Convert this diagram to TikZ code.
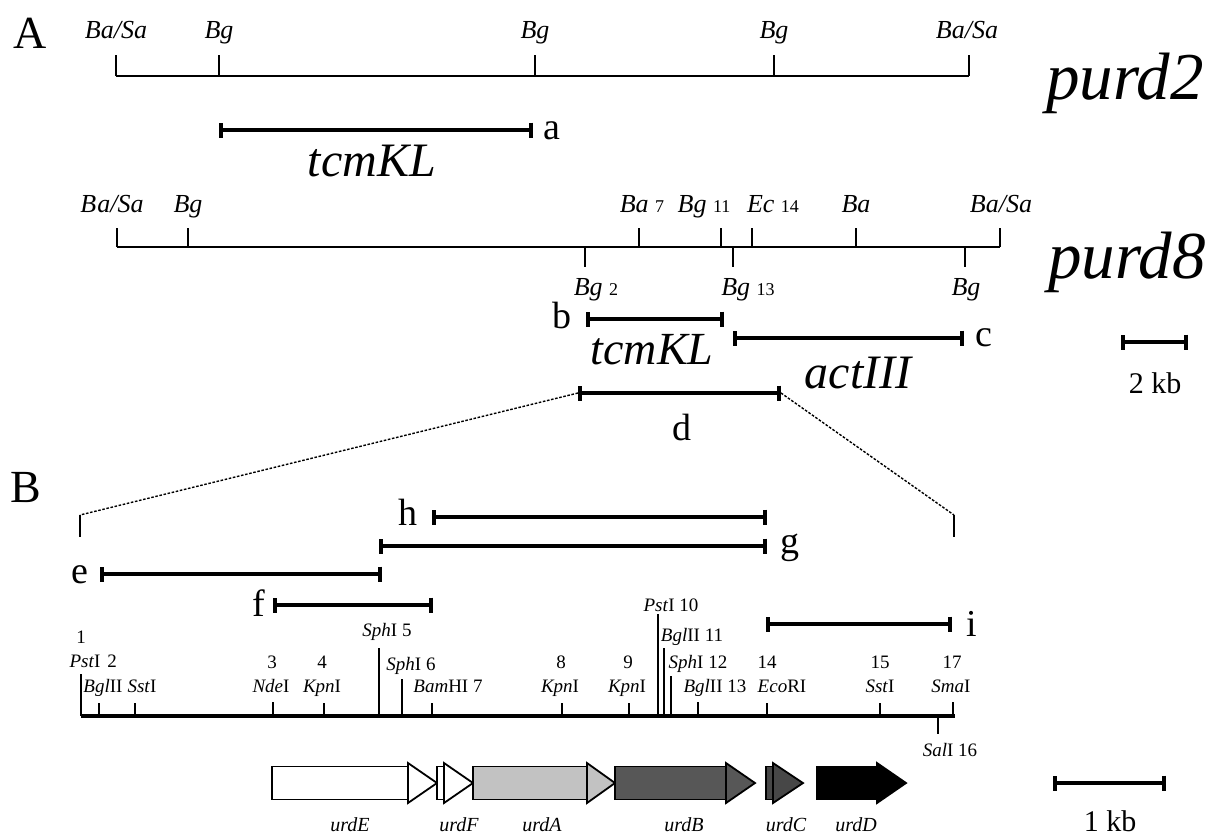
\documentclass[tikz,border=0pt]{standalone}
\usepackage{fontspec}
\setmainfont{Liberation Serif}
\usetikzlibrary{arrows.meta}
\newcommand\fs[1]{\fontsize{#1}{#1}\selectfont}
\newcommand\genearrow[5]{% x0, x1, tip, fill, name
  \filldraw[gene, fill=#4] (#1,766.5) rectangle (#2,799.5);
  \filldraw[gene, fill=#4] (#2,763) -- (#3,783) -- (#2,803) -- cycle;
  \coordinate (#5) at ({(#1+#3)/2},783);
}
\tikzset{
  mapline/.style={line width=1.6pt},
  maptick/.style={line width=1.6pt},
  bmap/.style={line width=3.4pt},
  btick/.style={line width=2pt},
  frag/.style={line width=4pt, {Bar[width=15pt]}-{Bar[width=15pt]}},
  dots/.style={line width=1.4pt, dash pattern=on 2.6pt off 1.6pt},
  gene/.style={line width=1.8pt, draw=black},
  panel/.style={font=\fs{46}, anchor=base, inner sep=0},
  clone/.style={font=\fs{67}\itshape, anchor=base, inner sep=0},
  gname/.style={font=\fs{48}\itshape, anchor=base, inner sep=0},
  flabel/.style={font=\fs{38}, anchor=base, inner sep=0},
  asite/.style={font=\fs{26}\itshape, anchor=base, inner sep=0},
  bsite/.style={font=\fs{19}, anchor=base, inner sep=0},
  ulabel/.style={font=\fs{20}\itshape, anchor=base, inner sep=0},
  kb/.style={font=\fs{30}, anchor=base, inner sep=0},
}
\newcommand\nm[1]{{\fs{18}\upshape #1}}
\begin{document}
\begin{tikzpicture}[x=1pt, y=-1pt]
\useasboundingbox (0,0) rectangle (1210,839);

% ---------------- panel A ----------------
\node[panel] (pA) at (30,48) {A};

% purd2 map
\draw[mapline] (116,76) -- (969,76);
\foreach \x in {116,219,535,774,969} \draw[maptick] (\x,76) -- (\x,55);
\node[asite] (p2s1) at (116,38) {Ba/Sa};
\node[asite] (p2s2) at (219,38) {Bg};
\node[asite] (p2s3) at (535,38) {Bg};
\node[asite] (p2s4) at (774,38) {Bg};
\node[asite] (p2s5) at (967,38) {Ba/Sa};
\node[clone] (purd2) at (1125,99) {purd2};

% fragment a
\coordinate (a1) at (219,130); \coordinate (a2) at (533,130);
\draw[frag] (a1) -- (a2);
\node[flabel, anchor=base west] (la) at (543,139) {a};
\node[gname] (tcm1) at (372,176) {tcmKL};

% purd8 map
\draw[mapline] (117,247) -- (1000,247);
\foreach \x in {117,188,639,721,752,856,1000} \draw[maptick] (\x,247) -- (\x,228);
\foreach \x in {585,733,965} \draw[maptick] (\x,247) -- (\x,267);
\node[asite] (p8s1) at (112,212) {B\kern1pt a/Sa};
\node[asite] (p8s2) at (188,212) {Bg};
\node[asite] (p8s3) at (642,212) {Ba \nm{7}};
\node[asite] (p8s4) at (704,212) {Bg \nm{11}};
\node[asite] (p8s5) at (773,212) {Ec \nm{14}};
\node[asite] (p8s6) at (856,212) {Ba};
\node[asite] (p8s7) at (1001,212) {Ba/Sa};
\node[asite] (p8s8) at (596,295) {Bg \nm{2}};
\node[asite] (p8s9) at (748,295) {Bg \nm{13}};
\node[asite] (p8s10) at (966,295) {Bg};
\node[clone] (purd8) at (1127,278) {purd8};

% fragments b, c, d
\coordinate (b1) at (586,319); \coordinate (b2) at (724,319);
\draw[frag] (b1) -- (b2);
\node[flabel] (lb) at (562,328) {b};
\node[font=\fs{46}\itshape, anchor=base, inner sep=0] (tcm2) at (652,364) {tcmKL};
\coordinate (c1) at (733,338); \coordinate (c2) at (964,338);
\draw[frag] (c1) -- (c2);
\node[flabel, anchor=base west] (lc) at (975,346) {c};
\node[gname] (act) at (858,388) {actIII};
\coordinate (d1) at (578,393); \coordinate (d2) at (781,393);
\draw[frag] (d1) -- (d2);
\node[flabel] (ld) at (682,440) {d};

% 2 kb scale
\coordinate (s1) at (1121,342); \coordinate (s2) at (1188,342);
\draw[frag] (s1) -- (s2);
\node[kb] (kb2) at (1155,393) {2 kb};

% enlargement of d
\coordinate (zl) at (80,515); \coordinate (zr) at (954,515);
\draw[dots] (d1) -- (zl);
\draw[dots] (d2) -- (zr);
\draw[line width=1.3pt] (zl) -- (80,537);
\draw[line width=1.3pt] (zr) -- (954,537);

% ---------------- panel B ----------------
\node[panel] (pB) at (26,502) {B};

\coordinate (h1) at (432,517); \coordinate (h2) at (767,517);
\draw[frag] (h1) -- (h2);
\node[flabel] (lh) at (408,525) {h};
\coordinate (g1) at (379,546); \coordinate (g2) at (767,546);
\draw[frag] (g1) -- (g2);
\node[flabel] (lg) at (790,553) {g};
\coordinate (e1) at (100,574); \coordinate (e2) at (382,574);
\draw[frag] (e1) -- (e2);
\node[flabel] (le) at (80,583) {e};
\coordinate (f1) at (273,605); \coordinate (f2) at (433,605);
\draw[frag] (f1) -- (f2);
\node[flabel] (lf) at (259,616) {f};
\coordinate (i1) at (766,624); \coordinate (i2) at (952,624);
\draw[frag] (i1) -- (i2);
\node[flabel] (li) at (972,636) {i};

% restriction map
\draw[bmap] (81,716) -- (954.7,716);
\foreach \x/\t in {81/674, 99/703, 135/703, 273/702, 324/703, 379/648, 402/679,
  432/703, 562/703, 629/703, 658/614, 664/648, 671/676, 698/702, 767/703, 880/703, 953/702}
  \draw[btick] (\x,716) -- (\x,\t);
\draw[btick] (938,716) -- (938,734);

\node[bsite] (r1n) at (81,643) {1};
\node[bsite] (r1) at (85,667) {\textit{Pst}I};
\node[bsite] (r2n) at (112,667) {2};
\node[bsite] (r2) at (103,692) {\textit{Bgl}II};
\node[bsite] (rsst) at (142,692) {\textit{Sst}I};
\node[bsite] (r3n) at (272,668) {3};
\node[bsite] (r3) at (271,692) {\textit{Nde}I};
\node[bsite] (r4n) at (322,668) {4};
\node[bsite] (r4) at (322,692) {\textit{Kpn}I};
\node[bsite] (r5) at (387,636) {\textit{Sph}I 5};
\node[bsite] (r6) at (411,670) {\textit{Sph}I 6};
\node[bsite] (r7) at (448,692) {\textit{Bam}HI 7};
\node[bsite] (r8n) at (561,668) {8};
\node[bsite] (r8) at (560,692) {\textit{Kpn}I};
\node[bsite] (r9n) at (628,668) {9};
\node[bsite] (r9) at (627,692) {\textit{Kpn}I};
\node[bsite] (r10) at (671,611) {\textit{Pst}I 10};
\node[bsite] (r11) at (692,641) {\textit{Bgl}II 11};
\node[bsite] (r12) at (698,668) {\textit{Sph}I 12};
\node[bsite] (r13) at (715,692) {\textit{Bgl}II 13};
\node[bsite] (r14n) at (767,668) {14};
\node[bsite] (r14) at (782,692) {\textit{Eco}RI};
\node[bsite] (r15n) at (880,668) {15};
\node[bsite] (r15) at (880,692) {\textit{Sst}I};
\node[bsite] (r17n) at (952,668) {17};
\node[bsite] (r17) at (951,692) {\textit{Sma}I};
\node[bsite] (r16) at (950,756) {\textit{Sal}I 16};

% gene arrows
\genearrow{272}{408}{437}{white}{urdE}
\genearrow{437}{444}{473}{white}{urdF}
\genearrow{473}{587}{615}{black!24}{urdA}
\genearrow{615}{726}{755}{black!66}{urdB}
\genearrow{766}{773}{803}{black!72}{urdC}
\genearrow{817}{877}{906}{black}{urdD}
\node[ulabel] (uE) at (350,831) {urdE};
\node[ulabel] (uF) at (459,831) {urdF};
\node[ulabel] (uA) at (542,831) {urdA};
\node[ulabel] (uB) at (684,831) {urdB};
\node[ulabel] (uC) at (786,831) {urdC};
\node[ulabel] (uD) at (856,831) {urdD};

% 1 kb scale
\coordinate (t1) at (1053,783); \coordinate (t2) at (1166,783);
\draw[frag] (t1) -- (t2);
\node[kb] (kb1) at (1110,831) {1 kb};
\end{tikzpicture}
\end{document}
